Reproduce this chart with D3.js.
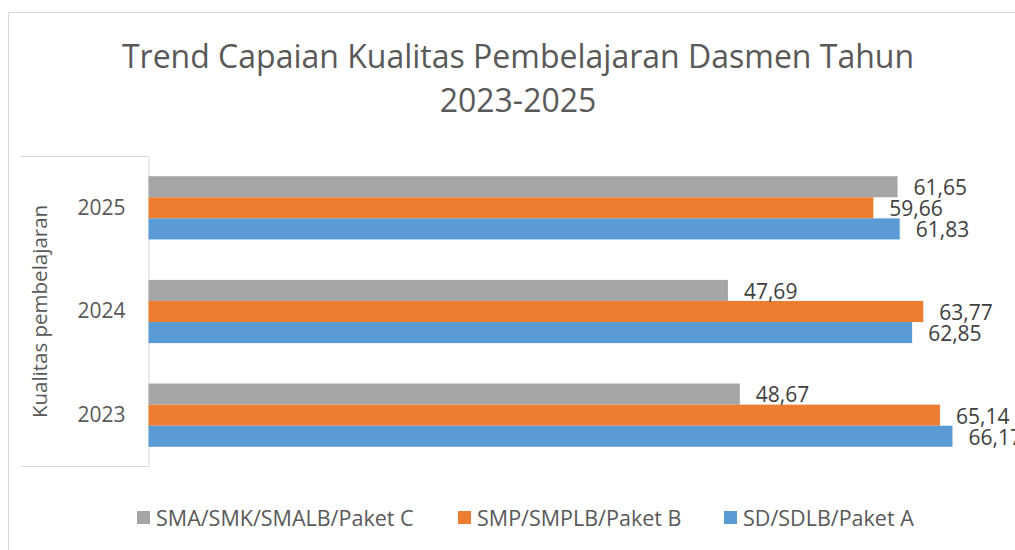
<!DOCTYPE html>
<html>
<head>
<meta charset="utf-8">
<script src="https://cdn.jsdelivr.net/npm/d3@7"></script>
<style>
  body { margin: 0; background: #fff; }
  text { font-family: "Open Sans", "Noto Sans", sans-serif; fill: #595959; }
</style>
</head>
<body>
<svg id="chart" width="1015" height="550"></svg>
<script>
const years = ["2025", "2024", "2023"];
const seriesNames = ["SMA/SMK/SMALB/Paket C", "SMP/SMPLB/Paket B", "SD/SDLB/Paket A"];
const seriesColors = ["#A5A5A5", "#ED7D31", "#5B9BD5"];
// values per year, in the same order as years
const paketC = [61.65, 47.69, 48.67];
const paketB = [59.66, 63.77, 65.14];
const paketA = [61.83, 62.85, 66.17];
const seriesValues = [paketC, paketB, paketA];

const svg = d3.select("#chart");
const fmt = v => v.toFixed(2).replace(".", ",");

// outer chart border
svg.append("path")
    .attr("d", "M8.5,560 V12.5 H1020")
    .attr("fill", "none")
    .attr("stroke", "#d9d9d9");

// title
const title = svg.append("text")
    .attr("text-anchor", "middle")
    .style("font-size", "32px");
title.append("tspan").attr("x", 518).attr("y", 68).text("Trend Capaian Kualitas Pembelajaran Dasmen Tahun");
title.append("tspan").attr("x", 518).attr("y", 112).text("2023-2025");

const plot = { left: 148.5, top: 156, bottom: 467 };

const y = d3.scaleBand()
    .domain(years)
    .range([plot.top, plot.bottom])
    .paddingInner(0.39)
    .paddingOuter(0.195);

const yInner = d3.scaleBand()
    .domain(d3.range(seriesNames.length))
    .range([0, y.bandwidth()]);

const x = d3.scaleLinear()
    .domain([0, 70])
    .range([plot.left, 999]);

// box around the category axis
svg.append("path")
    .attr("d", `M21,${plot.top + 0.5} H${plot.left} M21,${plot.bottom - 0.5} H${plot.left}`)
    .attr("stroke", "#d9d9d9")
    .attr("fill", "none");

const yAxis = svg.append("g")
    .attr("transform", `translate(${plot.left},0)`)
    .call(d3.axisLeft(y).tickSize(0).tickPadding(23));
yAxis.select(".domain").attr("stroke", "#d9d9d9");
yAxis.selectAll("text")
    .style("font-size", "21px")
    .attr("fill", "#595959")
    .attr("font-family", null);

// axis title
svg.append("text")
    .attr("transform", `translate(47,${(plot.top + plot.bottom) / 2}) rotate(-90)`)
    .attr("text-anchor", "middle")
    .style("font-size", "20.5px")
    .text("Kualitas pembelajaran");

const groups = svg.selectAll("g.year")
    .data(years)
    .enter()
    .append("g")
    .attr("class", "year")
    .attr("transform", d => `translate(0,${y(d)})`);

groups.selectAll("rect")
    .data((d, i) => seriesValues.map((vals, s) => ({ s, v: vals[i] })))
    .enter()
    .append("rect")
    .attr("x", x(0))
    .attr("y", d => yInner(d.s))
    .attr("width", d => x(d.v) - x(0))
    .attr("height", yInner.bandwidth())
    .attr("fill", d => seriesColors[d.s]);

groups.selectAll("text.val")
    .data((d, i) => seriesValues.map((vals, s) => ({ s, v: vals[i] })))
    .enter()
    .append("text")
    .attr("class", "val")
    .attr("x", d => x(d.v) + 16)
    .attr("y", d => yInner(d.s) + yInner.bandwidth() / 2 + 1)
    .attr("dy", "0.35em")
    .style("font-size", "21px")
    .style("fill", "#404040")
    .text(d => fmt(d.v));

// legend
const legendX = [137, 458, 724];
const legend = svg.selectAll("g.legend")
    .data(seriesNames)
    .enter()
    .append("g")
    .attr("class", "legend")
    .attr("transform", (d, i) => `translate(${legendX[i]},511)`);
legend.append("rect")
    .attr("width", 13)
    .attr("height", 13)
    .attr("fill", (d, i) => seriesColors[i]);
legend.append("text")
    .attr("x", 19)
    .attr("y", 7)
    .attr("dy", "0.35em")
    .style("font-size", "21.5px")
    .text(d => d);
</script>
</body>
</html>
